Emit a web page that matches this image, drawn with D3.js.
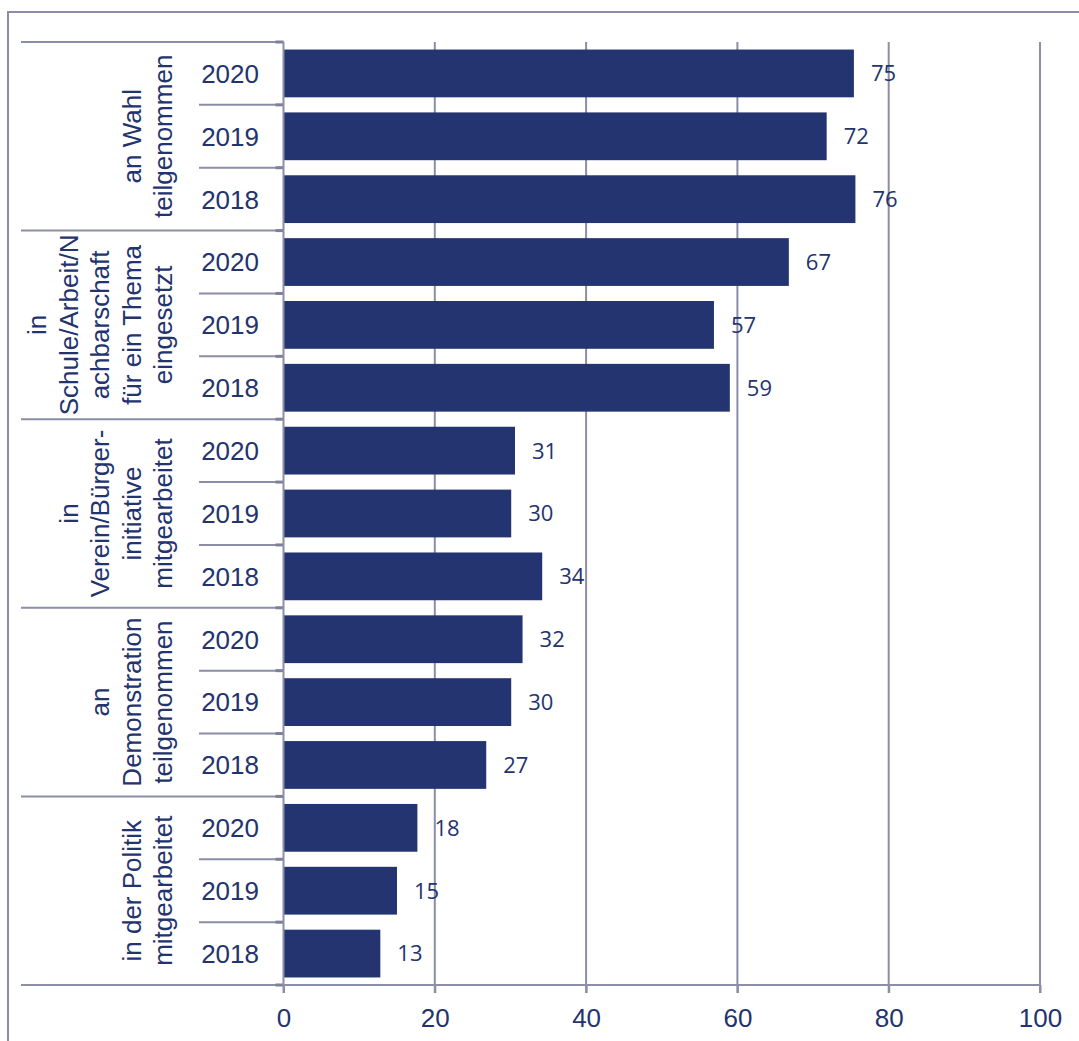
<!DOCTYPE html>
<html lang="de">
<head>
<meta charset="utf-8">
<title>Engagement</title>
<script src="https://d3js.org/d3.v7.min.js"></script>
<style>
  body { margin: 0; background: #fff; font-family: "Liberation Sans", Arial, sans-serif; }
  .lbl { fill: #23336e; font-size: 26px; }
  .val { fill: #23336e; font-size: 22px; font-family: "Open Sans", sans-serif; }
</style>
</head>
<body>
<div id="chart"></div>
<script>
// data
var groupLabels = [
  ["an Wahl", "teilgenommen"],
  ["in", "Schule/Arbeit/N", "achbarschaft", "für ein Thema", "eingesetzt"],
  ["in", "Verein/Bürger-", "initiative", "mitgearbeitet"],
  ["an", "Demonstration", "teilgenommen"],
  ["in der Politik", "mitgearbeitet"]
];
var years = ["2020", "2019", "2018"];
var wahl = [75.4, 71.8, 75.6];
var schule = [66.8, 56.9, 59.0];
var verein = [30.6, 30.1, 34.2];
var demo = [31.6, 30.1, 26.8];
var politik = [17.7, 15.0, 12.8];
var xTicks = [0, 20, 40, 60, 80, 100];

var series = [wahl, schule, verein, demo, politik];

var rows = [];
series.forEach(function(vals, g) {
  years.forEach(function(yr, i) {
    rows.push({id: g + "-" + yr, group: g, year: yr, value: vals[i]});
  });
});

// layout
var W = 1079, H = 1041;
var plotLeft = 283.5, plotRight = 1040, plotTop = 42, plotBottom = 985;
var lineCol = "#8b8ea6", barCol = "#243470";

var svg = d3.select("#chart").append("svg")
  .attr("width", W)
  .attr("height", H);

// outer frame
svg.append("rect")
  .attr("x", 8).attr("y", 12)
  .attr("width", W + 20).attr("height", H + 20)
  .attr("fill", "none")
  .attr("stroke", lineCol)
  .attr("stroke-width", 2);

// scales
var x = d3.scaleLinear().domain([0, 100]).range([plotLeft, plotRight]);
var y = d3.scaleBand()
  .domain(rows.map(function(d) { return d.id; }))
  .range([plotTop, plotBottom])
  .paddingInner(0.24)
  .paddingOuter(0.12);
var step = y.step();

// vertical gridlines
svg.append("g").selectAll("line")
  .data(xTicks.slice(1))
  .enter().append("line")
  .attr("x1", function(d) { return x(d); })
  .attr("x2", function(d) { return x(d); })
  .attr("y1", plotTop).attr("y2", plotBottom + 8)
  .attr("stroke", lineCol).attr("stroke-width", 2);

// x axis
var xAxis = d3.axisBottom(x).tickValues(xTicks).tickSize(8).tickPadding(16);
var gx = svg.append("g")
  .attr("transform", "translate(0," + plotBottom + ")")
  .call(xAxis);
gx.select(".domain").remove();
gx.selectAll(".tick line").attr("stroke", lineCol).attr("stroke-width", 2);
gx.selectAll(".tick text")
  .attr("fill", "#23336e")
  .style("font-size", "26px")
  .style("font-family", "'Liberation Sans', Arial, sans-serif");

// bottom line
svg.append("line")
  .attr("x1", 21).attr("x2", plotRight)
  .attr("y1", plotBottom).attr("y2", plotBottom)
  .attr("stroke", lineCol).attr("stroke-width", 2);

// row separators on the category axis
svg.append("g").selectAll("line")
  .data(d3.range(0, rows.length))
  .enter().append("line")
  .attr("x1", function(i) { return i % 3 === 0 ? 21 : 199; })
  .attr("x2", plotLeft)
  .attr("y1", function(i) { return plotTop + i * step; })
  .attr("y2", function(i) { return plotTop + i * step; })
  .attr("stroke", lineCol).attr("stroke-width", 2);

// tick marks
svg.append("g").selectAll("line")
  .data(d3.range(0, rows.length + 1))
  .enter().append("line")
  .attr("x1", plotLeft - 8).attr("x2", plotLeft)
  .attr("y1", function(i) { return plotTop + i * step; })
  .attr("y2", function(i) { return plotTop + i * step; })
  .attr("stroke", "#7d8098").attr("stroke-width", 3);

// bars
svg.append("g").selectAll("rect")
  .data(rows)
  .enter().append("rect")
  .attr("x", x(0))
  .attr("y", function(d) { return y(d.id); })
  .attr("width", function(d) { return x(d.value) - x(0); })
  .attr("height", y.bandwidth())
  .attr("fill", barCol);

// value labels
svg.append("g").selectAll("text")
  .data(rows)
  .enter().append("text")
  .attr("class", "val")
  .attr("x", function(d) { return x(d.value) + 17; })
  .attr("y", function(d) { return y(d.id) + y.bandwidth() / 2; })
  .attr("dy", "0.36em")
  .text(function(d) { return d3.format(".0f")(d.value); });

// y axis line
svg.append("line")
  .attr("x1", plotLeft).attr("x2", plotLeft)
  .attr("y1", plotTop).attr("y2", plotBottom + 8)
  .attr("stroke", lineCol).attr("stroke-width", 2);

// year labels
svg.append("g").selectAll("text")
  .data(rows)
  .enter().append("text")
  .attr("class", "lbl")
  .attr("x", 259)
  .attr("text-anchor", "end")
  .attr("y", function(d) { return y(d.id) + y.bandwidth() / 2; })
  .attr("dy", "0.36em")
  .text(function(d) { return d.year; });

// group labels, rotated
groupLabels.forEach(function(lines, g) {
  var cy = plotTop + (g * 3 + 1.5) * step;
  var n = lines.length;
  lines.forEach(function(txt, j) {
    var bx = 172 - (n - 1 - j) * 31.5;
    svg.append("text")
      .attr("class", "lbl")
      .attr("text-anchor", "middle")
      .attr("transform", "translate(" + bx + "," + cy + ") rotate(-90)")
      .text(txt);
  });
});
</script>
</body>
</html>
